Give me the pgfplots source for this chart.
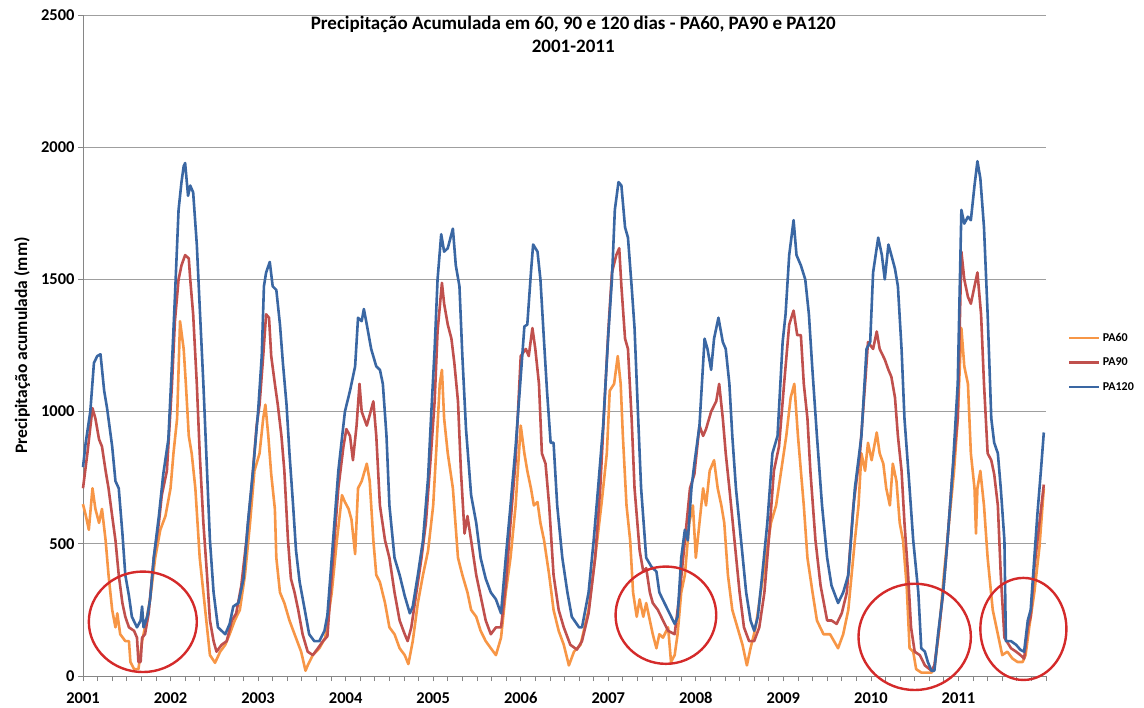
\documentclass[border=0pt]{standalone}
\usepackage{fontspec}
\setmainfont{Carlito}
\usepackage{pgfplots}
\pgfplotsset{compat=1.18}
\definecolor{pa60}{HTML}{F79646}
\definecolor{pa90}{HTML}{C0504D}
\definecolor{pa120}{HTML}{3A67A3}
\definecolor{axgray}{HTML}{868686}
\definecolor{circ}{HTML}{D42A2A}
\begin{document}
\begin{tikzpicture}
\useasboundingbox (-83bp,-32bp) rectangle (1061bp,676bp);
\begin{axis}[
 at={(0,0)}, anchor=south west,
 scale only axis, width=963bp, height=661bp,
 xmin=0, xmax=132, ymin=0, ymax=2500,
 clip=false,
 axis x line*=bottom, axis y line*=left,
 axis line style={axgray, line width=0.8bp, -},
 tick align=outside,
 major tick length=5bp, minor tick length=5bp,
 tick style={axgray, line width=0.8bp},
 xtick={0,12,...,120},
 xticklabels={2001,2002,2003,2004,2005,2006,2007,2008,2009,2010,2011},
 minor xtick={2,4,...,132},
 ytick={0,500,...,2500},
 ymajorgrids, grid style={color=gray!75, line width=0.8bp},
 /pgf/number format/1000 sep={},
 /pgf/number format/assume math mode=true,
 ticklabel style={font=\fontsize{16.5bp}{19bp}\selectfont\bfseries},
 xticklabel style={yshift=-8bp},
 ylabel={Precipitação acumulada (mm)},
 ylabel style={font=\fontsize{17.5bp}{19bp}\selectfont\bfseries, at={(axis description cs:-0.0633,0.5)}, anchor=center},
 legend style={at={(axis description cs:1.0228,0.522)}, anchor=north west, draw=none, fill=none,
   font=\fontsize{12bp}{14bp}\selectfont\bfseries, row sep=11bp, inner sep=0pt},
 legend cell align=left,
 legend image code/.code={\draw[#1, line width=2.6bp] (0bp,0bp) -- (30bp,0bp);},
 every axis plot/.append style={line width=2.6bp, line join=round},
]
\addplot[pa60] coordinates {
(0,650)(0.4,605)(0.8,553)(1.3,710)(1.7,632)(2.2,579)(2.6,632)(3.1,513)(3.5,382)(4.0,250)(4.45,184)(4.7,237)(5.1,158)(5.8,132)(6.3,132)(6.5,53)(7.0,26)(7.6,26)(8.1,132)(8.5,184)(9.2,290)(9.9,447)(10.6,553)(11.3,605)(12.0,710)(12.4,842)(12.9,974)(13.3,1342)(13.8,1237)(14.1,1105)(14.5,908)(14.9,842)(15.4,710)(16.0,447)(16.5,316)(17.0,184)(17.4,79)(18.1,50)(18.8,92)(19.5,118)(20.1,158)(20.8,210)(21.5,250)(22.2,382)(22.9,579)(23.5,776)(24.2,842)(24.7,974)(25.0,1026)(25.4,908)(25.8,763)(26.3,632)(26.5,447)(27.0,316)(27.6,276)(28.3,210)(29.0,158)(29.9,92)(30.5,20)(30.8,40)(31.5,79)(32.4,105)(33.2,145)(34.1,316)(34.8,513)(35.5,684)(35.9,658)(36.4,632)(36.8,592)(37.3,461)(37.7,710)(38.2,737)(38.9,803)(39.3,737)(39.8,513)(40.2,382)(40.7,355)(41.4,276)(42.0,184)(42.7,158)(43.4,105)(44.1,79)(44.6,45)(45.2,132)(45.9,276)(46.6,382)(47.3,474)(48.0,645)(48.4,842)(48.9,1105)(49.2,1158)(49.5,974)(50.0,842)(50.7,710)(51.4,447)(52.0,382)(52.7,316)(53.2,250)(53.9,224)(54.5,171)(55.2,132)(55.9,105)(56.6,79)(57.3,145)(57.95,316)(58.6,447)(59.3,645)(60.0,947)(60.5,842)(60.9,776)(61.4,710)(61.8,645)(62.3,658)(62.7,579)(63.2,513)(63.9,382)(64.5,250)(65.2,171)(65.9,118)(66.6,40)(67.3,92)(68.2,118)(69.3,250)(70.2,447)(71.1,658)(71.8,842)(72.2,1079)(72.8,1105)(73.3,1210)(73.7,1105)(74.0,908)(74.5,645)(75.0,513)(75.4,316)(75.9,224)(76.3,290)(76.8,224)(77.2,276)(77.7,210)(78.1,158)(78.6,105)(79.0,158)(79.5,145)(80.2,184)(80.6,53)(81.1,79)(81.5,158)(82.0,316)(82.5,382)(83.1,579)(83.6,645)(84.0,447)(84.5,579)(85.0,710)(85.4,645)(85.9,776)(86.5,816)(87.0,710)(87.5,645)(87.9,579)(88.4,382)(89.0,250)(89.7,184)(90.4,118)(91.0,40)(91.5,105)(92.2,184)(92.9,316)(93.6,447)(94.3,579)(95.0,645)(95.7,776)(96.4,908)(97.0,1053)(97.5,1105)(98.0,908)(98.4,776)(98.8,645)(99.3,447)(100.0,316)(100.6,210)(101.5,158)(102.4,158)(103.5,105)(104.2,158)(104.9,250)(105.8,513)(106.3,645)(106.7,842)(107.2,776)(107.6,882)(108.1,816)(108.8,921)(109.2,842)(109.7,803)(110.1,710)(110.6,645)(111.0,803)(111.5,737)(111.95,579)(112.4,513)(112.9,342)(113.3,105)(113.8,92)(114.2,26)(114.9,13)(116.3,13)(116.7,26)(117.4,184)(118.0,382)(118.7,579)(119.4,776)(119.9,974)(120.4,1316)(120.8,1171)(121.3,1105)(121.7,842)(122.2,710)(122.4,539)(122.6,710)(123.0,776)(123.5,645)(124.0,447)(124.7,250)(125.4,158)(126.0,79)(126.7,92)(127.4,66)(128.1,53)(128.8,53)(129.2,79)(129.7,184)(130.4,316)(131.1,487)(131.7,710)
};
\addlegendentry{PA60}
\addplot[pa90] coordinates {
(0,710)(0.6,842)(1.3,1013)(1.7,974)(2.2,895)(2.6,868)(3.1,776)(3.5,710)(4.0,605)(4.45,513)(4.9,382)(5.4,276)(5.8,224)(6.3,184)(7.0,171)(7.4,145)(7.6,53)(7.9,53)(8.1,145)(8.5,158)(9.0,237)(9.7,447)(10.4,579)(10.8,684)(11.5,776)(12.2,1105)(12.6,1342)(13.1,1500)(13.5,1553)(14.0,1592)(14.5,1579)(14.7,1500)(15.1,1368)(15.6,1105)(16.0,842)(16.5,579)(17.0,382)(17.4,210)(17.9,132)(18.3,92)(19.0,118)(19.7,132)(20.4,210)(21.0,237)(21.7,342)(22.4,513)(23.1,710)(23.8,947)(24.2,1026)(24.7,1210)(25.1,1368)(25.5,1355)(25.8,1210)(26.3,1105)(26.7,1026)(27.2,908)(27.6,776)(28.1,513)(28.5,368)(29.0,316)(29.5,250)(30.1,158)(30.8,92)(31.5,79)(32.2,105)(32.9,132)(33.5,150)(34.1,382)(35.0,710)(35.7,868)(36.1,934)(36.6,908)(37.0,816)(37.5,947)(37.9,1105)(38.2,1000)(38.9,947)(39.3,987)(39.8,1039)(40.2,908)(40.7,645)(41.4,513)(42.0,447)(42.7,316)(43.4,210)(44.1,158)(44.5,132)(45.0,184)(45.7,316)(46.4,447)(47.0,579)(47.7,842)(48.2,1039)(48.6,1303)(49.2,1487)(49.5,1408)(50.0,1329)(50.5,1276)(50.9,1184)(51.4,1039)(51.8,776)(52.3,539)(52.7,605)(53.2,513)(53.9,382)(54.5,303)(55.2,210)(55.9,158)(56.6,184)(57.3,184)(57.95,342)(58.6,579)(59.3,816)(60.0,1210)(60.7,1237)(61.1,1210)(61.6,1316)(62.0,1237)(62.5,1105)(62.9,842)(63.4,803)(63.9,645)(64.5,382)(65.2,250)(65.9,184)(66.8,118)(67.7,100)(68.4,132)(69.3,237)(70.2,447)(70.9,710)(71.5,1039)(72.0,1303)(72.5,1526)(73.1,1592)(73.5,1618)(73.8,1474)(74.3,1276)(74.7,1237)(75.2,974)(75.6,710)(76.3,474)(76.8,395)(77.2,408)(77.7,316)(78.1,276)(78.8,250)(79.5,210)(80.2,171)(81.1,158)(81.8,316)(82.5,513)(83.2,710)(83.8,763)(84.5,947)(85.0,908)(85.4,934)(86.1,1000)(86.8,1039)(87.2,1105)(87.7,974)(88.1,842)(88.6,710)(89.3,513)(90.0,316)(90.6,184)(91.3,132)(92.0,132)(92.7,184)(93.4,316)(94.0,513)(94.7,776)(95.4,868)(96.1,1105)(96.8,1329)(97.4,1382)(97.9,1289)(98.4,1289)(98.8,1105)(99.3,974)(99.7,776)(100.4,513)(101.1,342)(102.0,210)(102.6,210)(103.3,197)(104.0,237)(104.7,316)(105.6,645)(106.5,842)(107.2,1105)(107.6,1263)(108.3,1237)(108.8,1303)(109.2,1237)(109.9,1197)(110.4,1158)(110.8,1132)(111.3,1053)(111.7,908)(112.2,776)(112.6,579)(113.1,382)(113.5,184)(114.0,92)(114.7,79)(115.4,40)(116.3,20)(116.7,40)(117.2,145)(117.9,316)(118.5,513)(119.2,776)(119.9,974)(120.4,1605)(120.8,1500)(121.3,1434)(121.7,1408)(122.2,1474)(122.6,1526)(123.1,1368)(123.5,1105)(124.0,842)(124.5,816)(124.9,763)(125.4,645)(125.8,382)(126.3,145)(127.2,105)(127.9,92)(128.5,79)(129.0,66)(129.5,184)(129.9,224)(130.4,408)(131.1,579)(131.7,724)
};
\addlegendentry{PA90}
\addplot[pa120] coordinates {
(0,790)(0.36,880)(1.0,1000)(1.5,1184)(1.95,1210)(2.4,1217)(2.9,1079)(3.3,1013)(4.0,868)(4.45,737)(4.9,710)(5.4,540)(5.8,382)(6.3,303)(6.7,224)(7.4,184)(7.9,210)(8.1,263)(8.3,184)(8.8,224)(9.2,290)(9.7,447)(10.4,605)(11.0,763)(11.7,895)(12.2,1184)(12.6,1434)(13.1,1763)(13.5,1868)(13.8,1928)(14.0,1940)(14.4,1816)(14.7,1855)(15.1,1829)(15.6,1632)(16.0,1395)(16.5,1105)(17.0,776)(17.4,513)(17.9,316)(18.5,184)(19.5,158)(20.1,197)(20.6,263)(21.3,276)(22.0,368)(22.6,579)(23.3,776)(24.0,1000)(24.5,1210)(24.8,1474)(25.1,1526)(25.6,1566)(26.0,1474)(26.5,1460)(27.0,1329)(27.4,1184)(27.9,1026)(28.3,842)(28.8,645)(29.2,474)(29.7,355)(30.4,250)(31.0,158)(31.7,132)(32.4,132)(33.1,171)(33.5,230)(34.1,447)(35.0,776)(35.9,1000)(36.6,1079)(37.3,1171)(37.7,1355)(38.2,1342)(38.5,1388)(38.9,1329)(39.5,1237)(40.2,1171)(40.7,1158)(41.1,1105)(41.6,908)(42.0,645)(42.7,447)(43.4,382)(44.1,303)(44.8,237)(45.2,263)(45.9,382)(46.6,513)(47.3,750)(47.7,974)(48.2,1237)(48.6,1500)(49.1,1671)(49.5,1605)(50.0,1618)(50.7,1692)(51.1,1553)(51.6,1474)(52.0,1210)(52.5,934)(53.2,684)(53.9,579)(54.5,447)(55.2,368)(55.9,316)(56.6,290)(57.3,237)(57.95,447)(58.6,645)(59.3,868)(60.0,1132)(60.5,1322)(60.9,1329)(61.4,1526)(61.7,1632)(62.3,1605)(62.7,1500)(63.2,1263)(63.6,1079)(64.1,882)(64.5,882)(65.0,645)(65.7,447)(66.4,316)(67.0,224)(68.0,184)(68.4,184)(69.3,316)(70.0,513)(70.6,710)(71.3,947)(72.0,1289)(72.5,1500)(72.9,1763)(73.4,1868)(73.8,1855)(74.3,1697)(74.7,1658)(75.2,1474)(75.6,1316)(76.1,974)(76.5,710)(77.2,447)(77.9,414)(78.6,395)(79.0,316)(79.7,276)(80.4,237)(81.1,197)(81.5,224)(82.0,447)(82.5,553)(82.9,513)(83.4,710)(83.8,803)(84.5,947)(85.2,1276)(85.6,1237)(86.1,1158)(86.5,1276)(87.1,1355)(87.7,1263)(88.1,1237)(88.6,1105)(89.0,908)(89.5,710)(90.2,513)(90.9,316)(91.5,210)(92.0,171)(92.5,224)(93.1,382)(93.8,579)(94.5,842)(95.2,908)(95.9,1263)(96.3,1368)(96.8,1592)(97.4,1724)(97.8,1592)(98.4,1553)(99.0,1500)(99.5,1368)(99.95,1171)(100.6,908)(101.3,645)(102.0,447)(102.6,342)(103.5,276)(104.2,316)(104.9,382)(105.8,710)(106.7,908)(107.4,1237)(107.9,1263)(108.3,1526)(109.0,1658)(109.5,1592)(109.9,1500)(110.4,1632)(110.8,1592)(111.3,1540)(111.7,1474)(112.2,1237)(112.6,974)(113.3,710)(113.8,513)(114.5,316)(114.9,105)(115.4,92)(115.8,53)(116.3,20)(116.7,20)(117.2,158)(117.9,316)(118.5,513)(119.2,776)(119.9,1105)(120.4,1763)(120.8,1711)(121.3,1737)(121.7,1724)(122.2,1855)(122.6,1947)(123.0,1882)(123.5,1697)(124.0,1368)(124.5,974)(124.9,882)(125.4,842)(125.8,710)(126.3,513)(126.5,132)(127.2,132)(127.9,118)(128.5,99)(129.0,92)(129.5,210)(129.9,250)(130.4,447)(130.8,605)(131.3,776)(131.7,921)
};
\addlegendentry{PA120}
\draw[circ, line width=2.4bp] (axis cs:8.2,205) ellipse [x radius=7.4, y radius=190];
\draw[circ, line width=2.4bp] (axis cs:79.9,230) ellipse [x radius=6.9, y radius=184];
\draw[circ, line width=2.4bp] (axis cs:114.0,148) ellipse [x radius=7.7, y radius=201];
\draw[circ, line width=2.4bp] (axis cs:128.9,178) ellipse [x radius=5.9, y radius=193];
\node[align=center, anchor=north, inner sep=1bp, font=\fontsize{19bp}{23bp}\selectfont\bfseries] at (axis cs:67.2,2500) {Precipitação Acumulada em 60, 90 e 120 dias - PA60, PA90 e PA120\\2001-2011};
\end{axis}
\end{tikzpicture}
\end{document}
